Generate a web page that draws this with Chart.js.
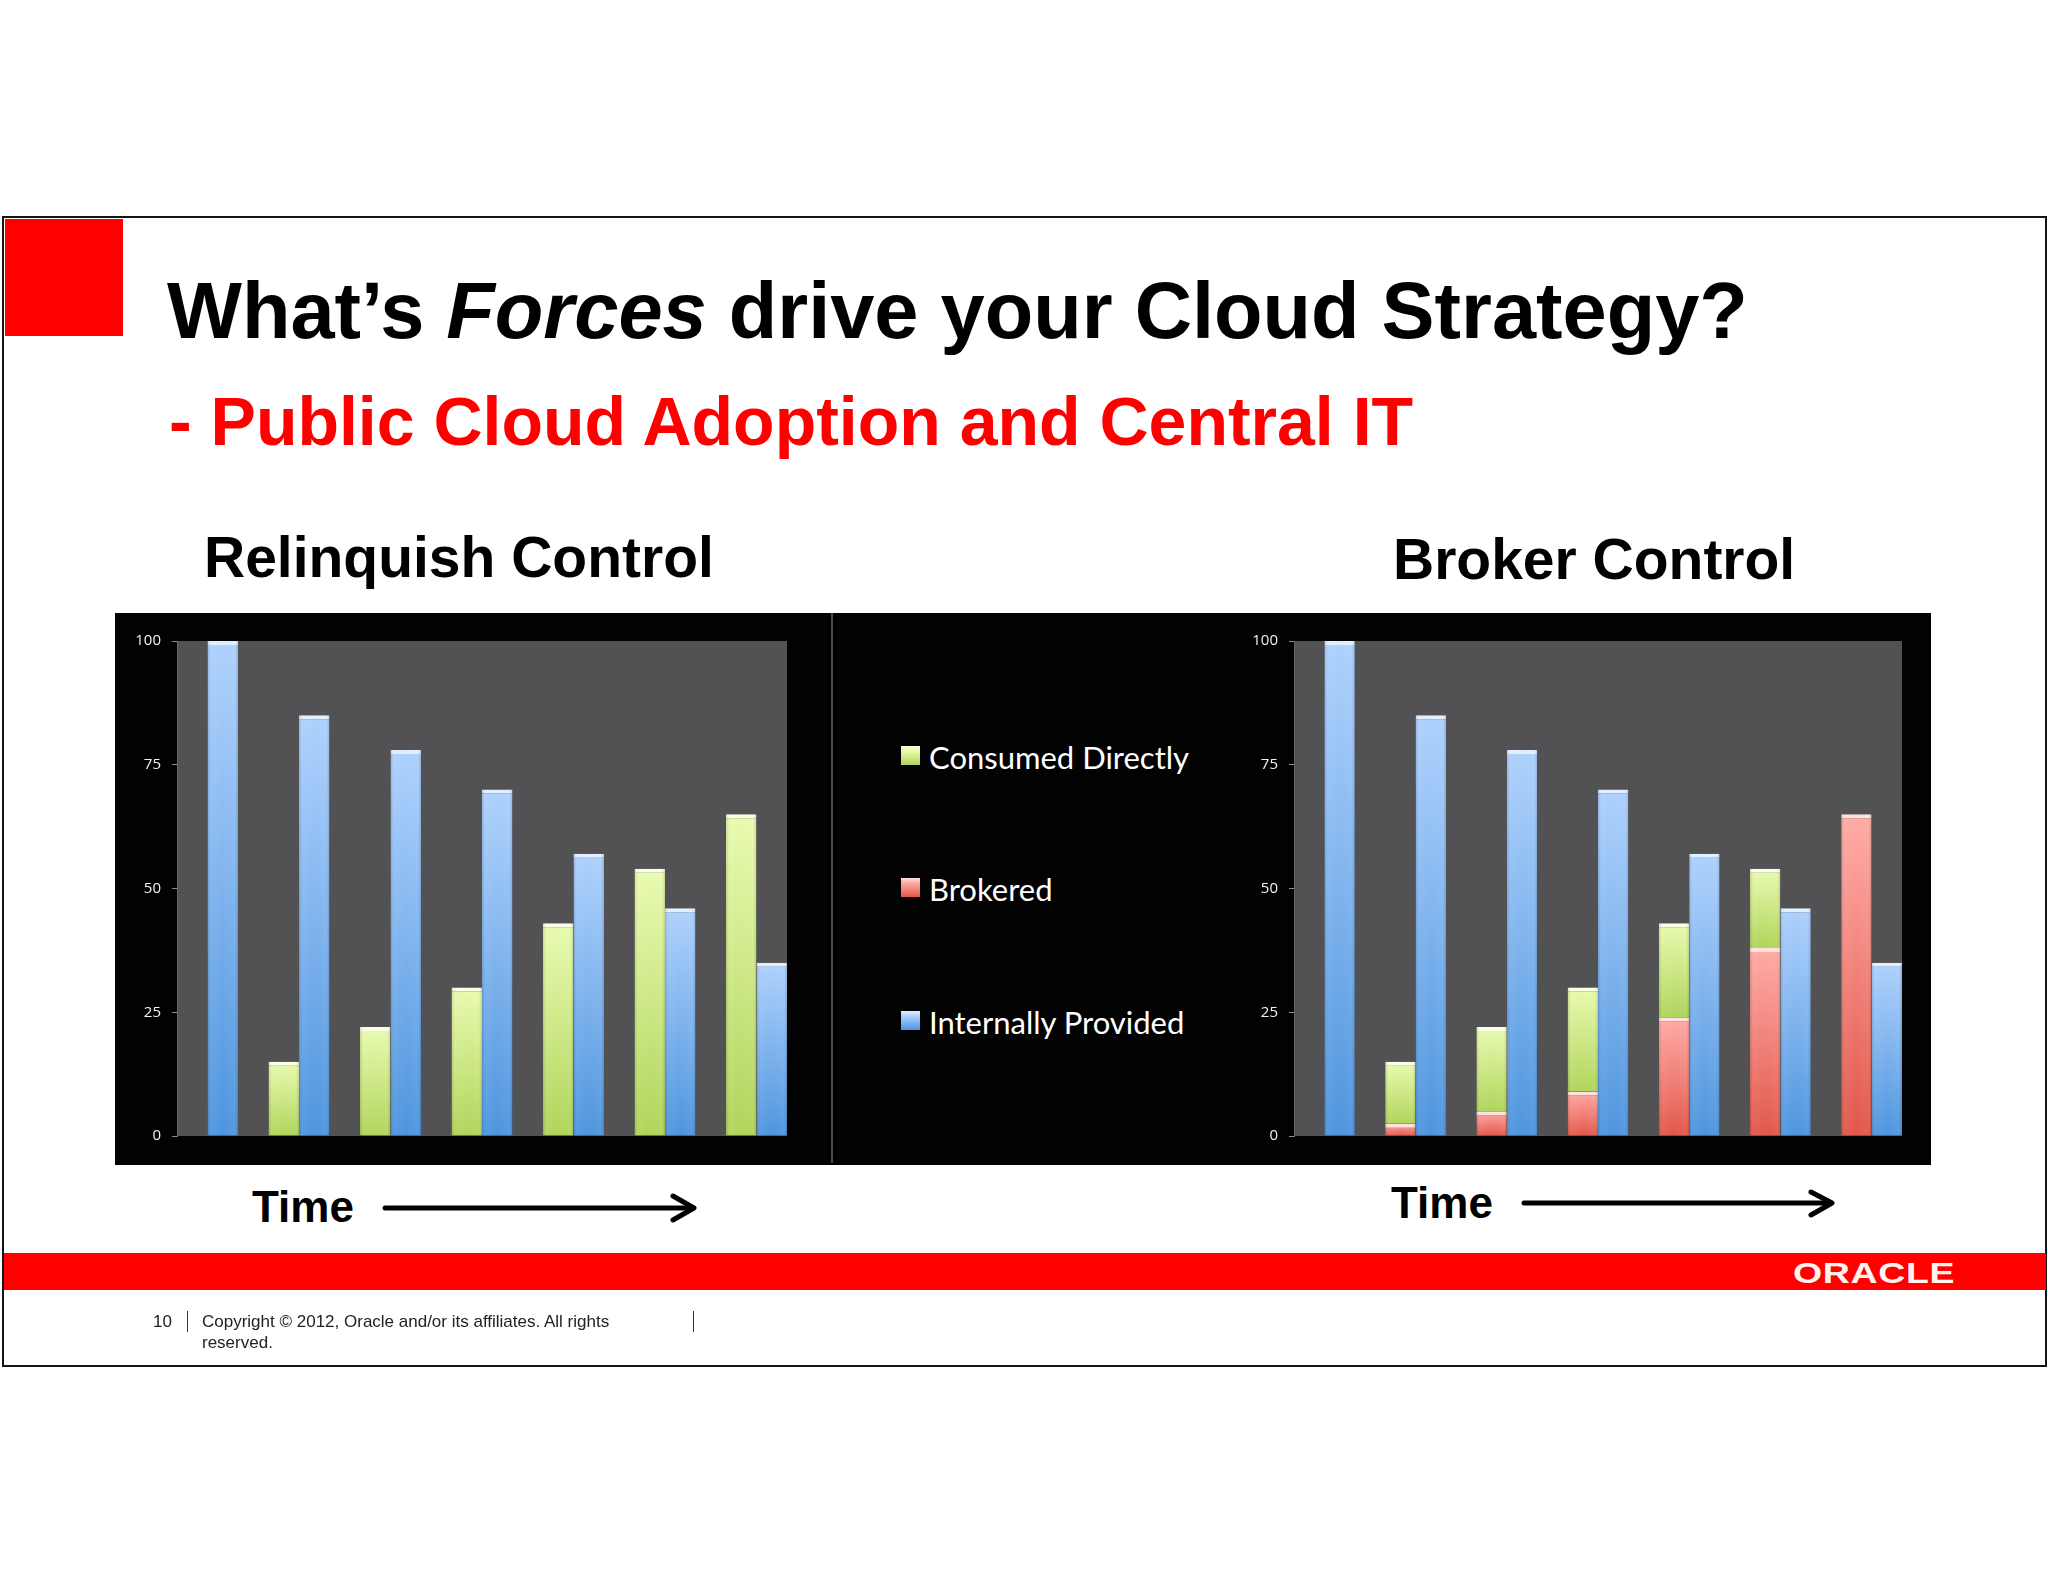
<!DOCTYPE html>
<html>
<head>
<meta charset="utf-8">
<script src="https://cdn.jsdelivr.net/npm/chart.js@4.4.0/dist/chart.umd.min.js"></script>
<style>
  html, body { margin: 0; padding: 0; background: #fff; }
  body { width: 2048px; height: 1582px; position: relative; overflow: hidden;
         font-family: "Liberation Sans", Arial, sans-serif; }
  .abs { position: absolute; white-space: nowrap; }
  #slide { left: 2px; top: 216px; width: 2041px; height: 1147px; border: 2px solid #141414; }
  #corner { left: 5px; top: 219px; width: 118px; height: 117px; background: #ff0000; }
  #title { left: 167px; top: 271px; font-size: 79.4px; line-height: 80px; font-weight: bold; color: #000; }
  #subtitle { left: 169px; top: 387px; font-size: 68px; line-height: 68px; font-weight: bold; color: #ff0000; }
  .head { font-size: 57px; line-height: 57px; font-weight: bold; color: #000; }
  .time { font-size: 44px; line-height: 44px; font-weight: bold; color: #000; }
  #panel { left: 115px; top: 613px; width: 1816px; height: 552px; background: #020203; }
  #divider { left: 831px; top: 613px; width: 2px; height: 550px; background: #4a4a4c; }
  canvas { position: absolute; }
  .legItem { position: absolute; left: 901px; height: 31px; }
  .legSw { position: absolute; left: 0; top: 4px; width: 19px; height: 19px; }
  .legTx { position: absolute; left: 28px; top: 0; font-family: Lato, "Open Sans", sans-serif;
           font-size: 31px; line-height: 31px; color: #fff; white-space: nowrap; }
  #footbar { left: 4px; top: 1253px; width: 2042px; height: 37px; background: #ff0000; }
  #oracle { left: 1793px; top: 1258px; font-size: 30px; line-height: 30px; font-weight: bold;
            color: #fff3ee; transform: scaleX(1.25); transform-origin: left top; letter-spacing: 0.5px; }
  .foot { font-size: 17px; line-height: 21px; color: #222; }
  .sep { width: 1px; height: 21px; background: #333; top: 1311px; }
</style>
</head>
<body>
<div id="slide" class="abs"></div>
<div id="corner" class="abs"></div>
<div id="title" class="abs">What’s <i>Forces</i> drive your Cloud Strategy?</div>
<div id="subtitle" class="abs">- Public Cloud Adoption and Central IT</div>
<div class="abs head" style="left:204px; top:529px;">Relinquish Control</div>
<div class="abs head" style="left:1393px; top:531px;">Broker Control</div>

<div id="panel" class="abs"></div>
<div id="divider" class="abs"></div>
<canvas id="relChart" width="717" height="552" style="left:115px; top:613px;"></canvas>
<canvas id="brkChart" width="731" height="552" style="left:1200px; top:613px;"></canvas>
<div id="legend"></div>

<div class="abs time" style="left:252px; top:1185px;">Time</div>
<div class="abs time" style="left:1391px; top:1181px;">Time</div>
<svg class="abs" style="left:0; top:0;" width="2048" height="1582">
  <g fill="none" stroke="#000" stroke-width="5" stroke-linecap="round" stroke-linejoin="round">
    <line x1="385" y1="1208" x2="691" y2="1208"/>
    <polyline points="673,1196 694,1208 673,1220"/>
    <line x1="1524" y1="1203" x2="1829" y2="1203"/>
    <polyline points="1811,1192 1832,1203 1811,1215"/>
  </g>
</svg>

<div id="footbar" class="abs"></div>
<div id="oracle" class="abs">ORACLE</div>
<div class="abs foot" style="left:153px; top:1311px;">10</div>
<div class="abs sep" style="left:187px;"></div>
<div class="abs foot" style="left:202px; top:1311px;">Copyright © 2012, Oracle and/or its affiliates. All rights<br>reserved.</div>
<div class="abs sep" style="left:693px;"></div>

<script>
const periods = ["T1", "T2", "T3", "T4", "T5", "T6", "T7"];
const yTicks = [0, 25, 50, 75, 100];
const seriesNames = ["Consumed Directly", "Brokered", "Internally Provided"];

// Relinquish Control
const relConsumed = [0, 15, 22, 30, 43, 54, 65];
const relInternal = [100, 85, 78, 70, 57, 46, 35];

// Broker Control
const brkBrokered = [0, 2.5, 5, 9, 24, 38, 65];
const brkConsumed = [0, 12.5, 17, 21, 19, 16, 0];
const brkInternal = [100, 85, 78, 70, 57, 46, 35];

const green = { top: "#e9fbb0", bottom: "#b0d45a", cap: "#f9ffe4" };
const red = { top: "#ffaba6", bottom: "#e2574a", cap: "#ffe2de" };
const blue = { top: "#aed1fd", bottom: "#4e95de", cap: "#e0efff" };

// per-bar vertical gradient, light at the top, darker at the base
function barFill(pal) {
    return function (ctx) {
        const chart = ctx.chart;
        if (ctx.type !== "data" || !chart.chartArea) return pal.bottom;
        const ds = chart.data.datasets;
        const me = ds[ctx.datasetIndex];
        let base = 0;
        for (let k = 0; k < ctx.datasetIndex; k++) {
            if (me.stack && ds[k].stack === me.stack) base += ds[k].data[ctx.dataIndex];
        }
        const y = chart.scales.y;
        const y0 = y.getPixelForValue(base + me.data[ctx.dataIndex]);
        const y1 = y.getPixelForValue(base);
        if (!isFinite(y0) || !isFinite(y1) || y1 - y0 < 1) return pal.bottom;
        const g = chart.ctx.createLinearGradient(0, y0, 0, y1);
        g.addColorStop(0, pal.top);
        g.addColorStop(1, pal.bottom);
        return g;
    };
}

function barSet(label, data, pal, stack) {
    const d = {
        label: label,
        data: data,
        backgroundColor: barFill(pal),
        borderColor: pal.cap,
        borderWidth: { top: 4, left: 0, right: 0, bottom: 0 },
        borderSkipped: false
    };
    if (stack) d.stack = stack;
    return d;
}

const plotBg = {
    id: "plotBg",
    beforeDraw(chart) {
        const a = chart.chartArea;
        const c = chart.ctx;
        c.save();
        c.fillStyle = "#525153";
        c.fillRect(a.left, a.top, a.right - a.left, a.bottom - a.top);
        c.restore();
    }
};

// soft glassy shading on the sides of each bar
const barGloss = {
    id: "barGloss",
    afterDatasetsDraw(chart) {
        const c = chart.ctx;
        chart.data.datasets.forEach((ds, di) => {
            chart.getDatasetMeta(di).data.forEach(bar => {
                const h = bar.base - bar.y;
                if (h < 2) return;
                const l = bar.x - bar.width / 2;
                const g = c.createLinearGradient(l, 0, l + bar.width, 0);
                g.addColorStop(0, "rgba(0,0,0,0.14)");
                g.addColorStop(0.12, "rgba(255,255,255,0.05)");
                g.addColorStop(0.5, "rgba(255,255,255,0)");
                g.addColorStop(0.88, "rgba(255,255,255,0.04)");
                g.addColorStop(1, "rgba(0,0,0,0.16)");
                c.save();
                c.fillStyle = g;
                c.fillRect(l, bar.y, bar.width, h);
                c.restore();
            });
        });
    }
};

function makeChart(id, datasets, yWidth, padRight, stacked) {
    return new Chart(document.getElementById(id), {
        type: "bar",
        data: {
            labels: periods.map((p, i) => i),
            datasets: datasets
        },
        options: {
            responsive: false,
            animation: false,
            layout: { padding: { top: 28, bottom: 29, left: 0, right: padRight } },
            plugins: { legend: { display: false }, tooltip: { enabled: false } },
            datasets: { bar: { categoryPercentage: 2 / 3, barPercentage: 1 } },
            scales: {
                x: {
                    type: "linear",
                    display: false,
                    offset: false,
                    min: -1 / 3,
                    max: periods.length - 2 / 3,
                    afterBuildTicks: s => { s.ticks = periods.map((p, i) => ({ value: i })); }
                },
                y: {
                    min: 0,
                    max: 100,
                    stacked: stacked,
                    afterBuildTicks: s => { s.ticks = yTicks.map(v => ({ value: v })); },
                    afterFit: s => { s.width = yWidth; },
                    ticks: { color: "#f2f2f2", font: { family: "Open Sans", size: 15 }, padding: 11 },
                    grid: { drawOnChartArea: false, color: "#8c8c8c", tickLength: 5 },
                    border: { color: "#66666a" }
                }
            }
        },
        plugins: [plotBg, barGloss]
    });
}

const relChart = makeChart("relChart", [
    barSet(seriesNames[0], relConsumed, green),
    barSet(seriesNames[2], relInternal, blue)
], 62, 45, false);

const brkChart = makeChart("brkChart", [
    barSet(seriesNames[1], brkBrokered, red, "ext"),
    barSet(seriesNames[0], brkConsumed, green, "ext"),
    barSet(seriesNames[2], brkInternal, blue, "int")
], 94, 29, true);

// legend in the middle of the black panel
const legendPal = [green, red, blue];
const legendTops = [742, 874, 1007];
const legend = document.getElementById("legend");
seriesNames.forEach((name, i) => {
    const item = document.createElement("div");
    item.className = "legItem";
    item.style.top = legendTops[i] + "px";
    const sw = document.createElement("div");
    sw.className = "legSw";
    sw.style.background = "linear-gradient(" + legendPal[i].cap + " 0%, " + legendPal[i].top + " 25%, " + legendPal[i].bottom + " 100%)";
    const tx = document.createElement("div");
    tx.className = "legTx";
    tx.textContent = name;
    item.appendChild(sw);
    item.appendChild(tx);
    legend.appendChild(item);
});
</script>
</body>
</html>
